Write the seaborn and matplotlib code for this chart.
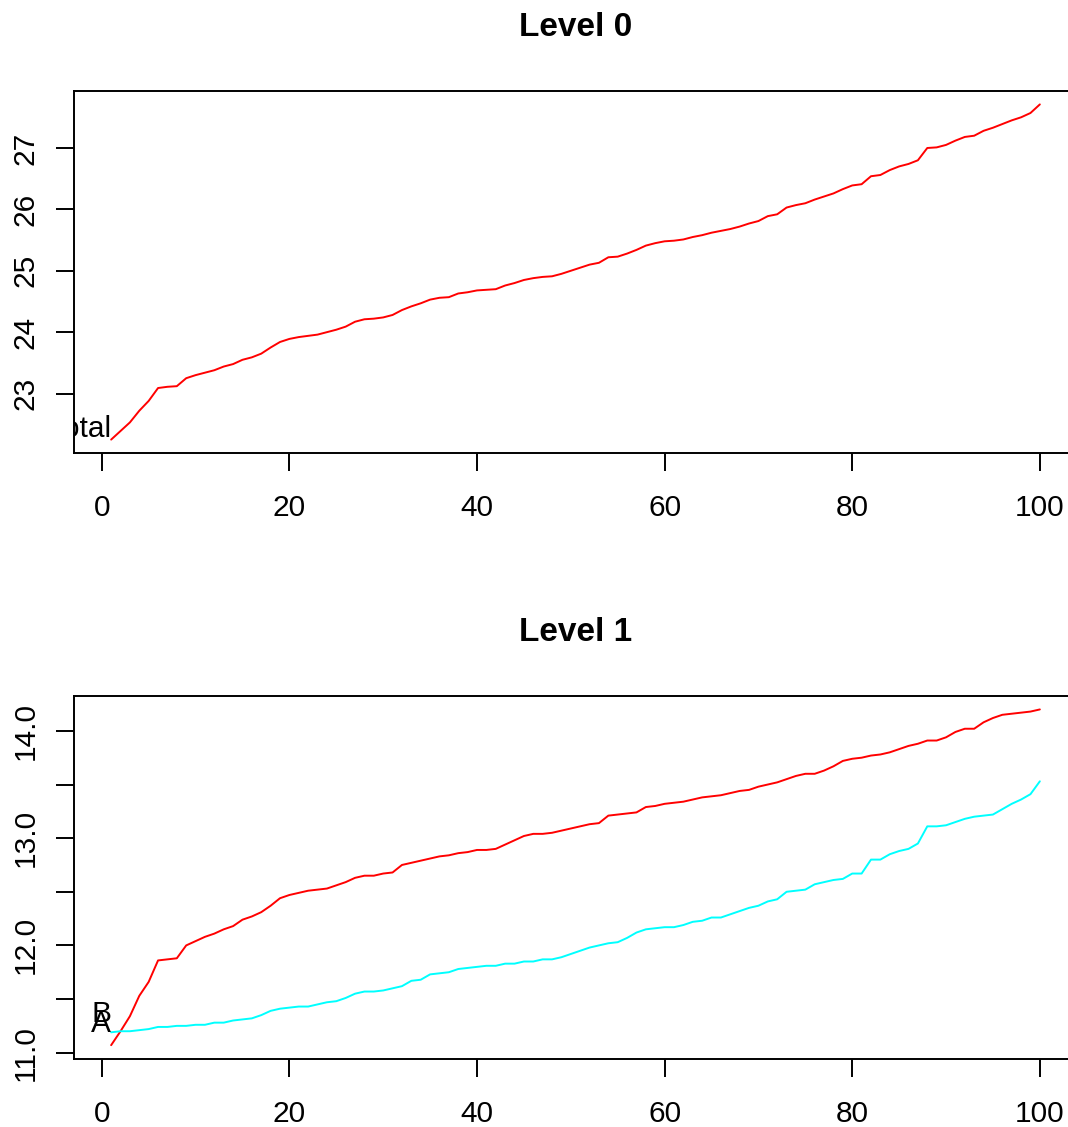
import numpy as np
import pandas as pd
import matplotlib
matplotlib.use("Agg")
import matplotlib.pyplot as plt
import seaborn as sns

# x positions 1..100
idx = list(range(1, 101))

# Level 0: total
total = [22.25, 22.39, 22.53, 22.72, 22.88, 23.09, 23.11, 23.12, 23.25, 23.30,
         23.34, 23.38, 23.44, 23.48, 23.55, 23.59, 23.65, 23.75, 23.84, 23.89,
         23.92, 23.94, 23.96, 24.00, 24.04, 24.09, 24.17, 24.21, 24.22, 24.24,
         24.28, 24.36, 24.42, 24.47, 24.53, 24.56, 24.57, 24.63, 24.65, 24.68,
         24.69, 24.70, 24.76, 24.80, 24.85, 24.88, 24.90, 24.91, 24.95, 25.00,
         25.05, 25.10, 25.13, 25.22, 25.23, 25.28, 25.34, 25.41, 25.45, 25.48,
         25.49, 25.51, 25.55, 25.58, 25.62, 25.65, 25.68, 25.72, 25.77, 25.81,
         25.89, 25.92, 26.03, 26.07, 26.10, 26.16, 26.21, 26.26, 26.33, 26.39,
         26.41, 26.54, 26.56, 26.64, 26.70, 26.74, 26.80, 27.00, 27.01, 27.05,
         27.12, 27.18, 27.20, 27.28, 27.33, 27.39, 27.45, 27.50, 27.57, 27.71]

# Level 1: series A (cyan) and B (red)
level1_a = [11.19, 11.20, 11.20, 11.21, 11.22, 11.24, 11.24, 11.25, 11.25, 11.26,
            11.26, 11.28, 11.28, 11.30, 11.31, 11.32, 11.35, 11.39, 11.41, 11.42,
            11.43, 11.43, 11.45, 11.47, 11.48, 11.51, 11.55, 11.57, 11.57, 11.58,
            11.60, 11.62, 11.67, 11.68, 11.73, 11.74, 11.75, 11.78, 11.79, 11.80,
            11.81, 11.81, 11.83, 11.83, 11.85, 11.85, 11.87, 11.87, 11.89, 11.92,
            11.95, 11.98, 12.00, 12.02, 12.03, 12.07, 12.12, 12.15, 12.16, 12.17,
            12.17, 12.19, 12.22, 12.23, 12.26, 12.26, 12.29, 12.32, 12.35, 12.37,
            12.41, 12.43, 12.50, 12.51, 12.52, 12.57, 12.59, 12.61, 12.62, 12.67,
            12.67, 12.80, 12.80, 12.85, 12.88, 12.90, 12.95, 13.11, 13.11, 13.12,
            13.15, 13.18, 13.20, 13.21, 13.22, 13.27, 13.32, 13.36, 13.41, 13.53]

level1_b = [11.07, 11.20, 11.34, 11.53, 11.66, 11.86, 11.87, 11.88, 12.00, 12.04,
            12.08, 12.11, 12.15, 12.18, 12.24, 12.27, 12.31, 12.37, 12.44, 12.47,
            12.49, 12.51, 12.52, 12.53, 12.56, 12.59, 12.63, 12.65, 12.65, 12.67,
            12.68, 12.75, 12.77, 12.79, 12.81, 12.83, 12.84, 12.86, 12.87, 12.89,
            12.89, 12.90, 12.94, 12.98, 13.02, 13.04, 13.04, 13.05, 13.07, 13.09,
            13.11, 13.13, 13.14, 13.21, 13.22, 13.23, 13.24, 13.29, 13.30, 13.32,
            13.33, 13.34, 13.36, 13.38, 13.39, 13.40, 13.42, 13.44, 13.45, 13.48,
            13.50, 13.52, 13.55, 13.58, 13.60, 13.60, 13.63, 13.67, 13.72, 13.74,
            13.75, 13.77, 13.78, 13.80, 13.83, 13.86, 13.88, 13.91, 13.91, 13.94,
            13.99, 14.02, 14.02, 14.08, 14.12, 14.15, 14.16, 14.17, 14.18, 14.20]

x_ticks = [0, 20, 40, 60, 80, 100]
top_yticks = [23, 24, 25, 26, 27]
bottom_yticks = [11.0, 11.5, 12.0, 12.5, 13.0, 13.5, 14.0]
bottom_ylabels = ['11.0', '', '12.0', '', '13.0', '', '14.0']

sns.set_theme(style="white")
plt.rcParams['font.family'] = ['Liberation Sans', 'DejaVu Sans']
plt.rcParams['text.color'] = 'black'
plt.rcParams['axes.titlecolor'] = 'black'

FS = 21.5


def r_range(vals):
    # R style axis range: data range padded 4% each side
    lo, hi = min(vals), max(vals)
    pad = (hi - lo) * 0.04
    return lo - pad, hi + pad


def style_axes(ax, title, yticks, ylabels, yvals):
    ax.set_xlim(*r_range(idx))
    ax.set_ylim(*r_range(yvals))
    ax.set_xticks(x_ticks)
    ax.set_yticks(yticks)
    ax.set_yticklabels(ylabels)
    ax.set_xlabel('')
    ax.set_ylabel('')
    for s in ax.spines.values():
        s.set_visible(True)
        s.set_color('black')
        s.set_linewidth(1.4)
    ax.tick_params(axis='both', direction='out', length=12.7, width=1.4,
                   color='black', labelsize=FS, labelcolor='black',
                   bottom=True, left=True)
    ax.tick_params(axis='x', pad=17)
    ax.tick_params(axis='y', pad=12)
    for lab in ax.get_yticklabels():
        lab.set_rotation(90)
        lab.set_va('center')
    ax.set_title(title, fontsize=24, fontweight='bold', color='black', pad=39.6)


fig = plt.figure(figsize=(10.68, 11.27), dpi=100)
W, H = 1068.0, 1127.0
ax0 = fig.add_axes([74 / W, 1 - 453 / H, (1077 - 74) / W, (453 - 91) / H])
ax1 = fig.add_axes([74 / W, 1 - 1058.6 / H, (1077 - 74) / W, (1058.6 - 696) / H])

df0 = pd.DataFrame({'index': idx, 'value': total})
sns.lineplot(data=df0, x='index', y='value', color='#FF0000', lw=1.4, ax=ax0)
style_axes(ax0, 'Level 0', top_yticks, [str(t) for t in top_yticks], total)
ax0.text(1, 22.30, 'Total', ha='right', va='baseline', fontsize=FS,
         color='black', clip_on=True)

df1 = pd.concat([
    pd.DataFrame({'index': idx, 'value': level1_a, 'series': 'A'}),
    pd.DataFrame({'index': idx, 'value': level1_b, 'series': 'B'}),
])
sns.lineplot(data=df1, x='index', y='value', hue='series',
             palette={'A': '#00FFFF', 'B': '#FF0000'}, hue_order=['B', 'A'],
             lw=1.4, legend=False, ax=ax1)
style_axes(ax1, 'Level 1', bottom_yticks, bottom_ylabels, level1_a + level1_b)
ax1.text(1, 11.29, 'B', ha='right', va='baseline', fontsize=FS,
         color='black', clip_on=True)
ax1.text(1, 11.19, 'A', ha='right', va='baseline', fontsize=FS,
         color='black', clip_on=True)

fig.savefig('out.png', dpi=100, facecolor='white')
